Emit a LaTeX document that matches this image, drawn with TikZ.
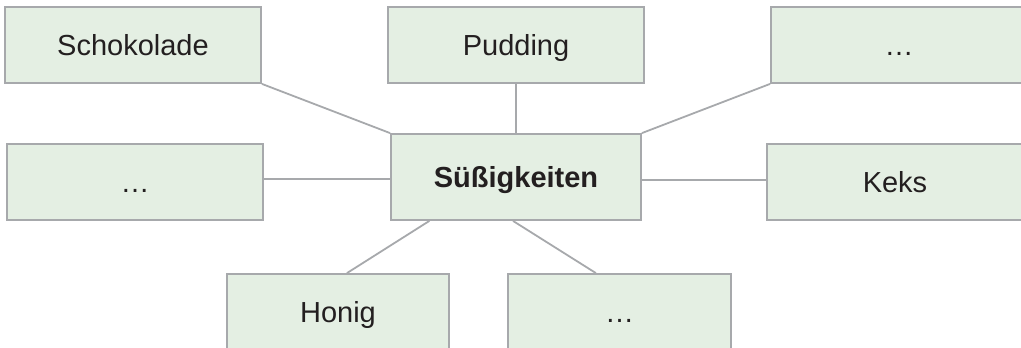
\documentclass[tikz,border=0pt]{standalone}
\usepackage{fontspec}
\setmainfont{Liberation Sans}
\usetikzlibrary{calc}
\definecolor{boxfill}{HTML}{E4EFE3}
\definecolor{boxline}{HTML}{A7A9AC}
\definecolor{txt}{HTML}{231F20}
\begin{document}
\begin{tikzpicture}[x=1pt,y=1pt,
  item/.style={draw=boxline, fill=boxfill, line width=1.8pt, inner sep=0pt,
    minimum width=256pt, minimum height=76pt, text height=20.8pt, text depth=0pt,
    text=txt, font=\fontsize{29}{34}\selectfont},
  link/.style={draw=boxline, line width=1.8pt}]
\clip (0,0) rectangle (1021,-348);
\node[item] (sch) at (133,-45) {Schokolade};
\node[item] (pud) at (516,-45) {Pudding};
\node[item] (tr) at (899,-45) {…};
\node[item] (lm) at (135,-182) {…};
\node[item, minimum width=250pt, minimum height=86pt, font=\fontsize{29}{34}\selectfont\bfseries] (c) at (516,-177) {Süßigkeiten};
\node[item] (keks) at (895,-182) {Keks};
\node[item, minimum width=222pt] (hon) at (338,-312) {Honig};
\node[item, minimum width=223pt] (br) at (619.5,-312) {…};
\draw[link] (sch.south east) -- (c.north west);
\draw[link] (pud.south) -- (c.north);
\draw[link] (tr.south west) -- (c.north east);
\draw[link] ([yshift=3pt]lm.east) -- ([yshift=3pt]lm.east -| c.west);
\draw[link] ([yshift=2pt]keks.west) -- ([yshift=2pt]keks.west -| c.east);
\draw[link] ($(c.south west)!0.156!(c.south east)$) -- ($(hon.north west)!0.54!(hon.north east)$);
\draw[link] ($(c.south west)!0.488!(c.south east)$) -- ($(br.north west)!0.395!(br.north east)$);
\end{tikzpicture}
\end{document}
